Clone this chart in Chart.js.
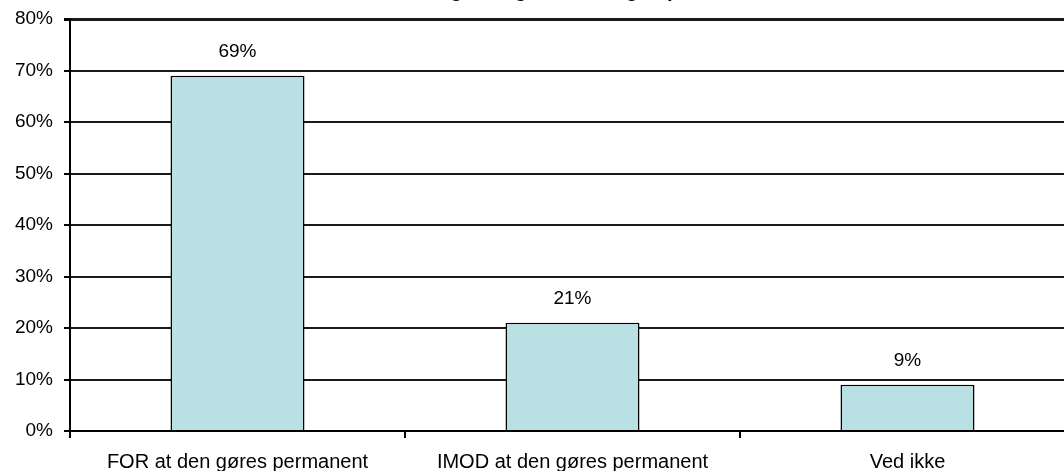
<!DOCTYPE html>

<html>
	<head>
		<title>Holdning til ordningen</title>
		<meta charset="utf-8"/>
		<script src="https://cdn.jsdelivr.net/npm/chart.js@4.4.1/dist/chart.umd.min.js"></script>
		<style>
			body { margin: 0; background: #fff; overflow: hidden; width: 1064px; height: 471px; }
			#wrap { position: absolute; left: 0; top: -30px; width: 1080px; height: 501px; }
		</style>
	</head>
	<body>
		<div id="wrap"><canvas id="poll_chart"></canvas></div>
		<script>
			// data
			const titleText = 'Holdning til at gøre ordningen permanent';
			const categories = ['FOR at den gøres permanent', 'IMOD at den gøres permanent', 'Ved ikke'];
			const shares = [69, 21, 9];
			const yMin = 0;
			const yMax = 80;
			const yStep = 10;

			const fontFamily = '"Liberation Sans", Arial, Helvetica, sans-serif';

			// draws the value above each bar, at the bar position given by chart.js
			const barLabels =
			{
				id: 'barLabels',
				afterDatasetsDraw(chart)
				{
					const ctx = chart.ctx;
					const meta = chart.getDatasetMeta(0);
					ctx.save();
					ctx.font = '19px ' + fontFamily;
					ctx.fillStyle = '#000';
					ctx.textAlign = 'center';
					ctx.textBaseline = 'middle';
					meta.data.forEach((bar, i) =>
					{
						ctx.fillText(shares[i] + '%', bar.x, bar.y - 24);
					});
					ctx.restore();
				}
			};

			Init();

			function Init()
			{
				const ctx = document.getElementById('poll_chart').getContext('2d');
				const chart_data =
				{
					labels: categories,
					datasets:
					[
						{
							data: shares,
							backgroundColor: '#b9e0e3',
							borderColor: '#000',
							borderWidth: 1.5,
							categoryPercentage: 1,
							barPercentage: 0.4
						}
					]
				};

				const config =
				{
					type: 'bar',
					data: chart_data,
					plugins: [barLabels],
					options:
					{
						responsive: true,
						maintainAspectRatio: false,
						animation: false,
						layout: { padding: { left: 0, right: 5, top: 0, bottom: 0 } },
						plugins:
						{
							legend: { display: false },
							tooltip: { enabled: false },
							title:
							{
								display: true,
								text: titleText,
								fullSize: false,
								color: '#000',
								font: { family: fontFamily, size: 20, weight: 'bold' },
								padding: { top: 9, bottom: 16 }
							}
						},
						scales:
						{
							x:
							{
								afterFit: s => { s.height = 40; },
								grid: { drawOnChartArea: false, drawTicks: true, tickLength: 7, color: '#000', lineWidth: 2 },
								border: { color: '#000', width: 2 },
								ticks: { color: '#000', padding: 12, maxRotation: 0, font: { family: fontFamily, size: 20 } }
							},
							y:
							{
								min: yMin,
								max: yMax,
								afterFit: s => { s.width = 70; },
								grid:
								{
									color: '#1a1a1a',
									lineWidth: c => (c.tick && c.tick.value === yMax) ? 3 : 2,
									drawTicks: true,
									tickLength: 6,
									tickColor: '#000'
								},
								border: { color: '#000', width: 2 },
								ticks:
								{
									stepSize: yStep,
									color: '#000',
									padding: 11,
									font: { family: fontFamily, size: 19 },
									callback: v => v + '%'
								}
							}
						}
					}
				};

				new Chart(ctx, config);
			}
		</script>
	</body>
</html>
